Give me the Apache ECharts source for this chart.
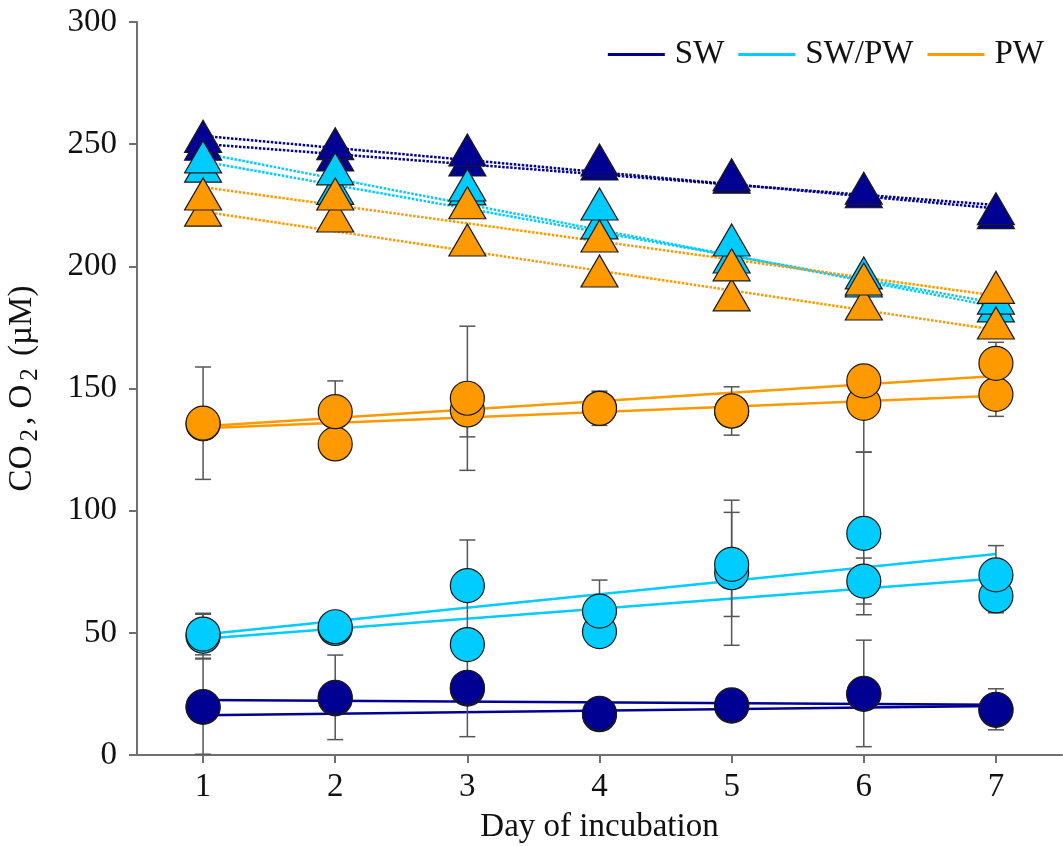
<!DOCTYPE html>
<html>
<head>
<meta charset="utf-8">
<script src="https://cdn.jsdelivr.net/npm/echarts@6/dist/echarts.min.js"></script>
<style>html,body{margin:0;padding:0;background:#fff}#c{width:1063px;height:846px}</style>
</head>
<body>
<div id="c"></div>
<script>
// ---------- data ----------
const days = [1, 2, 3, 4, 5, 6, 7];
const xTicks = [1, 2, 3, 4, 5, 6, 7];
const groups = ['SW', 'SW/PW', 'PW'];
const colors = ['#000092', '#00CCFF', '#FF9900'];

// O2 (triangles), two replicates per treatment
const o2_SW_a   = [253.2, 250.2, 247.6, 243.5, 237.5, 232.0, 223.6];
const o2_SW_b   = [250.0, 245.6, 243.5, 241.9, 236.5, 230.5, 222.0];
const o2_SWPW_a = [244.8, 239.9, 233.3, 225.5, 210.8, 197.3, 187.0];
const o2_SWPW_b = [241.0, 231.9, 231.7, 217.8, 203.8, 194.0, 183.8];
const o2_PW_a   = [229.6, 229.6, 226.0, 212.4, 200.6, 194.8, 191.4];
const o2_PW_b   = [223.0, 220.6, 210.8, 198.1, 188.3, 184.6, 176.8];

// CO2 (circles), two replicates per treatment
const co2_SW_a   = [19.8, 23.6, 27.7, 17.0, 20.5, 25.2, 18.7];
const co2_SW_b   = [19.5, 23.0, 27.0, 16.5, 20.0, 24.8, 18.3];
const co2_SWPW_a = [49.5, 52.5, 69.3, 58.9, 78.0, 90.7, 73.7];
const co2_SWPW_b = [48.6, 51.8, 45.2, 50.5, 74.6, 71.2, 65.1];
const co2_PW_a   = [135.8, 140.5, 146.0, 141.9, 140.8, 153.1, 160.3];
const co2_PW_b   = [135.5, 127.3, 141.2, 141.9, 140.8, 143.9, 147.6];

// CO2 error bars [down, up]
const err_SW_a   = [[19.5,19.5],[17.3,17.3],[20.2,20.2],[3,3],[3,3],[21.8,21.8],[8.4,8.4]];
const err_SW_b   = [[3,3],[3,3],[3,3],[2,2],[2,2],[3,3],[3,3]];
const err_SWPW_a = [[8.5,8.5],[3,3],[18.7,18.7],[12.7,12.7],[21.3,21.3],[33.3,33.3],[12,12]];
const err_SWPW_b = [[9,9],[3,3],[5,5],[4,4],[29.7,29.7],[9.4,9.4],[6.9,6.9]];
const err_PW_a   = [[23,23],[12.6,12.6],[29.5,29.5],[7,7],[9.9,9.9],[29.2,0],[8.6,8.6]];
const err_PW_b   = [[2,2],[3,3],[11,11],[3,3],[3,3],[3,3],[9,9]];

// regression lines: value at day 1 and day 7
const fitDays = [1, 7];
const fitO2_SW_a   = [253.4, 223.7];
const fitO2_SW_b   = [250.1, 225.1];
const fitO2_SWPW_a = [246.3, 183.5];
const fitO2_SWPW_b = [242.9, 185.0];
const fitO2_PW_a   = [232.4, 188.0];
const fitO2_PW_b   = [222.4, 174.0];
const fitCO2_SW_a   = [22.5, 20.6];
const fitCO2_SW_b   = [16.3, 20.1];
const fitCO2_SWPW_a = [49.3, 82.3];
const fitCO2_SWPW_b = [47.6, 72.2];
const fitCO2_PW_a   = [134.5, 155.1];
const fitCO2_PW_b   = [133.7, 147.0];

// ---------- build ----------
const FONT = '"Liberation Serif", "Times New Roman", serif';
const FS = 33;
const pts = (ys) => days.map((d, i) => [d, ys[i]]);
const fitPts = (ys) => fitDays.map((d, i) => [d, ys[i]]);

const o2 = [[o2_SW_a, o2_SW_b], [o2_SWPW_a, o2_SWPW_b], [o2_PW_a, o2_PW_b]];
const co2 = [[co2_SW_a, co2_SW_b], [co2_SWPW_a, co2_SWPW_b], [co2_PW_a, co2_PW_b]];
const errs = [[err_SW_a, err_SW_b], [err_SWPW_a, err_SWPW_b], [err_PW_a, err_PW_b]];
const fitsO2 = [[fitO2_SW_a, fitO2_SW_b], [fitO2_SWPW_a, fitO2_SWPW_b], [fitO2_PW_a, fitO2_PW_b]];
const fitsCO2 = [[fitCO2_SW_a, fitCO2_SW_b], [fitCO2_SWPW_a, fitCO2_SWPW_b], [fitCO2_PW_a, fitCO2_PW_b]];

const series = [];
// solid CO2 regression lines (legend entries)
groups.forEach((g, gi) => {
  fitsCO2[gi].forEach((f, k) => {
    series.push({
      name: k === 0 ? g : g + ' fitb', type: 'line', data: fitPts(f), symbol: 'none', showSymbol: false,
      lineStyle: { color: colors[gi], width: 2.5 }, itemStyle: { color: colors[gi] }, z: 2, silent: true
    });
  });
});
// dotted O2 regression lines
groups.forEach((g, gi) => {
  fitsO2[gi].forEach((f, k) => {
    series.push({
      name: g + ' o2fit' + k, type: 'line', data: fitPts(f), symbol: 'none',
      lineStyle: { color: colors[gi], width: 2.5, type: [2.5, 1.5] }, z: 2, silent: true
    });
  });
});
// error bars
const capHalf = 8;
groups.forEach((g, gi) => {
  [1, 0].forEach((k) => {
    const vals = co2[gi][k], e = errs[gi][k];
    series.push({
      name: g + ' err' + k, type: 'custom', z: 3,
      data: days.map((d, i) => [d, vals[i] - e[i][0], vals[i] + e[i][1]]),
      encode: { x: 0, y: [1, 2] },
      renderItem: (params, api) => {
        const x = api.value(0);
        const lo = api.coord([x, api.value(1)]);
        const hi = api.coord([x, api.value(2)]);
        const st = { stroke: '#555', lineWidth: 1.5, fill: null };
        return {
          type: 'group', children: [
            { type: 'line', shape: { x1: lo[0], y1: lo[1], x2: hi[0], y2: hi[1] }, style: st },
            { type: 'line', shape: { x1: lo[0] - capHalf, y1: lo[1], x2: lo[0] + capHalf, y2: lo[1] }, style: st },
            { type: 'line', shape: { x1: hi[0] - capHalf, y1: hi[1], x2: hi[0] + capHalf, y2: hi[1] }, style: st }
          ]
        };
      }
    });
  });
});
// circles (CO2)
groups.forEach((g, gi) => {
  [1, 0].forEach((k) => {
    series.push({
      name: g + ' co2_' + k, type: 'scatter', data: pts(co2[gi][k]), symbol: 'circle', symbolSize: 34, z: 4,
      itemStyle: { color: colors[gi], borderColor: '#1a1a1a', borderWidth: 1.2, opacity: 1 }
    });
  });
});
// triangles (O2)
groups.forEach((g, gi) => {
  [1, 0].forEach((k) => {
    series.push({
      name: g + ' o2_' + k, type: 'scatter', data: pts(o2[gi][k]), symbol: 'triangle', symbolSize: [37, 32], z: 5,
      itemStyle: { color: colors[gi], borderColor: '#1a1a1a', borderWidth: 1.2, opacity: 1 }
    });
  });
});

const chart = echarts.init(document.getElementById('c'), null, { renderer: 'canvas' });
chart.setOption({
  animation: false,
  backgroundColor: '#fff',
  grid: { left: 137, right: 1, top: 22, bottom: 91, containLabel: false, outerBoundsMode: 'none' },
  legend: {
    data: groups.map((g, gi) => ({ name: g, icon: 'rect', itemStyle: { color: colors[gi] } })),
    right: 14, top: 33, itemWidth: 57, itemHeight: 3, itemGap: 14,
    textStyle: { fontFamily: FONT, fontSize: FS, color: '#111', padding: [0, 0, 0, 5] },
    selectedMode: false
  },
  xAxis: {
    type: 'value', min: 0.5, max: 7.5,
    name: 'Day of incubation', nameLocation: 'middle', nameGap: 56,
    nameTextStyle: { fontFamily: FONT, fontSize: FS, color: '#111' },
    axisLine: { show: true, lineStyle: { color: '#707070', width: 2 } },
    axisTick: { show: true, length: 8, customValues: xTicks, lineStyle: { color: '#707070', width: 2 } },
    axisLabel: { customValues: xTicks, fontFamily: FONT, fontSize: FS, color: '#111', margin: 16 },
    splitLine: { show: false }
  },
  yAxis: {
    type: 'value', min: 0, max: 300, interval: 50,
    name: '{n|CO}{s|2}{n|, O}{s|2}{n| (µM)}', nameLocation: 'middle', nameGap: 96, nameRotate: 90,
    nameTextStyle: {
      fontFamily: FONT, fontSize: 33, color: '#111',
      rich: {
        n: { fontFamily: FONT, fontSize: 33, color: '#111', lineHeight: 38 },
        s: { fontFamily: FONT, fontSize: 25, color: '#111', lineHeight: 38, padding: [16, 4, 0, 4] }
      }
    },
    axisLine: { show: true, lineStyle: { color: '#707070', width: 2 } },
    axisTick: { show: true, length: 8, lineStyle: { color: '#707070', width: 2 } },
    axisLabel: { fontFamily: FONT, fontSize: FS, color: '#111', margin: 20 },
    splitLine: { show: false }
  },
  series: series
});
</script>
</body>
</html>
